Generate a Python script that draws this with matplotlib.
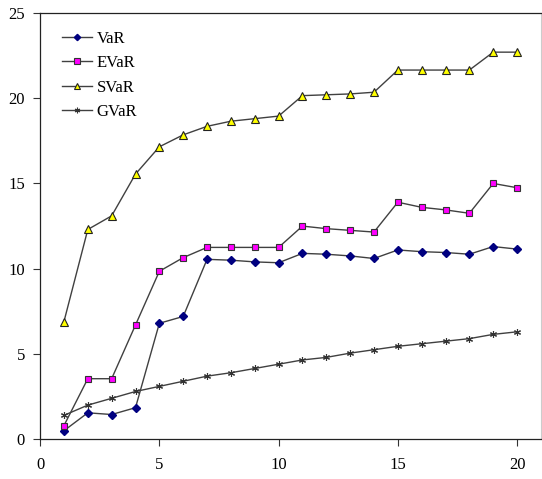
import matplotlib
matplotlib.use("Agg")
import matplotlib.pyplot as plt

x = list(range(1, 21))
var = [0.5, 1.55, 1.45, 1.85, 6.8, 7.2, 10.55, 10.5, 10.4, 10.35,
       10.9, 10.85, 10.75, 10.6, 11.1, 11.0, 10.95, 10.85, 11.3, 11.15]
evar = [0.8, 3.55, 3.55, 6.7, 9.85, 10.65, 11.25, 11.25, 11.25, 11.25,
        12.5, 12.35, 12.25, 12.15, 13.9, 13.6, 13.45, 13.25, 15.0, 14.75]
svar = [6.9, 12.3, 13.1, 15.55, 17.15, 17.85, 18.35, 18.65, 18.8, 18.95,
        20.15, 20.2, 20.25, 20.35, 21.65, 21.65, 21.65, 21.65, 22.7, 22.7]
gvar = [1.4, 2.0, 2.4, 2.8, 3.1, 3.4, 3.7, 3.9, 4.15, 4.4,
        4.65, 4.8, 5.05, 5.25, 5.45, 5.6, 5.75, 5.9, 6.15, 6.3]

plt.rcParams["font.family"] = ["Liberation Serif", "DejaVu Serif"]

fig = plt.figure(figsize=(5.42, 4.79), dpi=100)
ax = fig.add_axes([0.074, 0.083, 0.924, 0.89])

lc = "#404040"
ax.plot(x, var, color=lc, lw=1, marker="D", ms=4, mfc="#000080", mec="#000080", label="VaR")
ax.plot(x, evar, color=lc, lw=1, marker="s", ms=5, mfc="#FF00FF", mec="#333333", mew=0.8, label="EVaR")
ax.plot(x, svar, color=lc, lw=1, marker="^", ms=5.5, mfc="#FFFF00", mec="#222222", mew=0.8, label="SVaR")
ax.plot(x, gvar, color=lc, lw=1, marker=(6, 2, 0), ms=5, mec="#333333", mew=0.8, label="GVaR")

ax.set_xlim(0, 21)
ax.set_ylim(0, 25)
ax.set_xticks([0, 5, 10, 15, 20])
ax.set_yticks([0, 5, 10, 15, 20, 25])
ax.tick_params(direction="out", length=5, width=0.8, labelsize=12, color="#333333")
ax.tick_params(axis="x", pad=8)
ax.tick_params(axis="y", pad=6)

for s in ["left", "bottom", "top"]:
    ax.spines[s].set_color("#222222")
    ax.spines[s].set_linewidth(0.9)
ax.spines["right"].set_color("#cccccc")
ax.spines["right"].set_linewidth(0.8)

ax.legend(loc="upper left", bbox_to_anchor=(0.02, 0.985), frameon=False, fontsize=12,
          handlelength=1.8, handletextpad=0.3, labelspacing=0.5, borderaxespad=0.3,
          markerscale=0.8)

fig.savefig("out.png", dpi=100)
